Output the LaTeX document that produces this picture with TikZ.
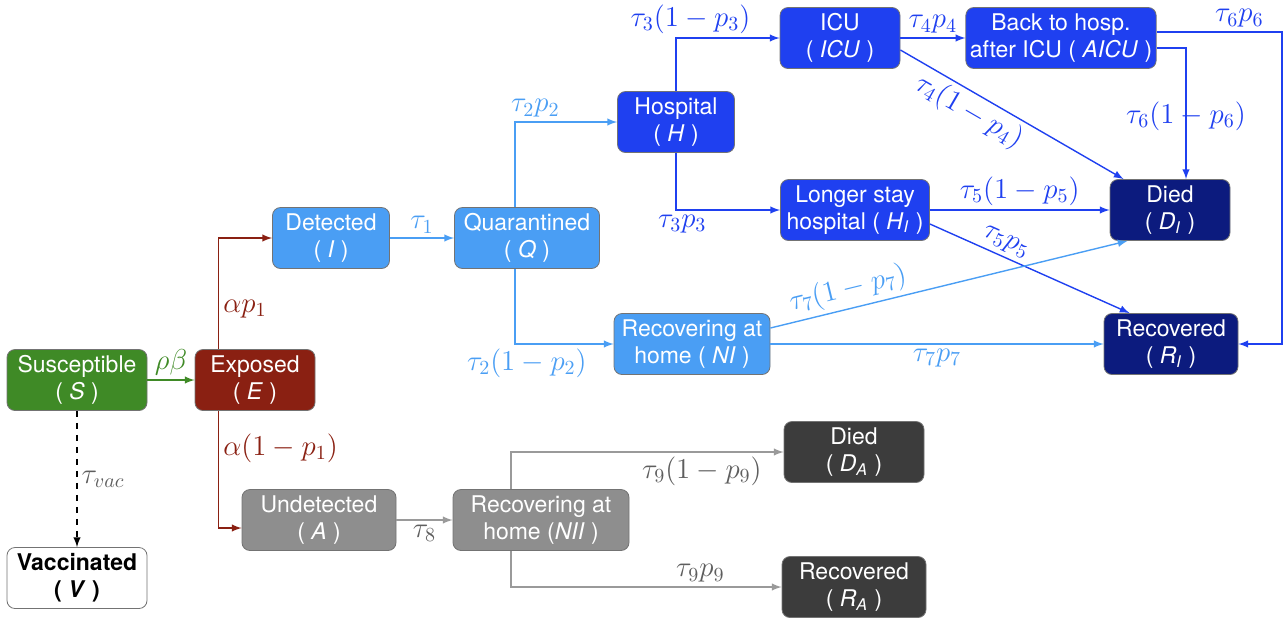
\documentclass[tikz,border=0pt]{standalone}
\usepackage{amsmath}
\usepackage{fontspec}
\usetikzlibrary{arrows}
\newfontfamily\boxfont{TeX Gyre Heros}
\newcommand{\stsub}[2]{\textit{#1}\textsubscript{\textit{#2}}}
\definecolor{sgreen}{HTML}{3F8A26}
\definecolor{ered}{HTML}{8A2012}
\definecolor{lblue}{HTML}{4A9EF4}
\definecolor{hblue}{HTML}{1F40F0}
\definecolor{navy}{HTML}{0C1B7E}
\definecolor{lgray}{HTML}{8E8E8E}
\definecolor{dgray}{HTML}{3C3C3C}
\definecolor{agray}{HTML}{9A9A9A}
\definecolor{tgray}{HTML}{5E5E5E}

\begin{document}
\begin{tikzpicture}
	[x=0.5pt, y=-0.5pt, >=latex, line width=0.7pt,
	main/.style = {draw=black!55, thin, rounded corners=4pt, text=white, align=center,
		minimum height=30.5pt, inner sep=2pt, font=\boxfont\fontsize{11.5}{13.5}\selectfont},
	lab/.style = {font=\fontsize{14}{16}\selectfont, inner sep=2pt}]
	\useasboundingbox (0,0) rectangle (1284,617);
	% compartments
	\node[main, fill=sgreen, minimum width=70pt] (S) at (77,380) {Susceptible\\( \textit{S} )};
	\node[main, fill=ered, minimum width=60pt] (E) [right of = S, node distance=89pt] {Exposed\\( \textit{E} )};
	\node[main, fill=lblue, minimum width=58.5pt] (I) at (331,238) {Detected\\( \textit{I} )};
	\node[main, fill=lblue, minimum width=72.5pt] (Q) [right of = I, node distance=98pt] {Quarantined\\( \textit{Q} )};
	\node[main, fill=hblue, minimum width=58.5pt] (H) at (676,122) {Hospital\\( \textit{H} )};
	\node[main, fill=hblue, minimum width=60pt] (ICU) at (840,38) {ICU\\( \textit{ICU} )};
	\node[main, fill=hblue, minimum width=93.5pt] (AICU) [right of = ICU, node distance=110.5pt] {Back to hosp.\\after ICU ( \textit{AICU} )};
	\node[main, fill=hblue, minimum width=74.5pt] (HI) at (855,210) {Longer stay\\hospital ( \stsub{H}{I} )};
	\node[main, fill=navy, minimum width=60pt] (DI) [right of = HI, node distance=157.5pt] {Died\\( \stsub{D}{I} )};
	\node[main, fill=lblue, minimum width=78pt] (NI) at (692,344) {Recovering at\\home ( \textit{NI} )};
	\node[main, fill=navy, minimum width=67pt] (RI) [right of = NI, node distance=239.5pt] {Recovered\\( \stsub{R}{I} )};
	\node[main, fill=white, text=black, minimum width=70pt, font=\boxfont\bfseries\fontsize{11.5}{13.5}\selectfont] (V) [below of = S, node distance=99pt] {Vaccinated\\( \textit{V} )};
	\node[main, fill=lgray, minimum width=77pt] (A) at (319,520) {Undetected\\( \textit{A} )};
	\node[main, fill=lgray, minimum width=88pt] (NII) [right of = A, node distance=111pt] {Recovering at\\home (\textit{NII} )};
	\node[main, fill=dgray, minimum width=70pt] (DA) at (854,452) {Died\\( \stsub{D}{A} )};
	\node[main, fill=dgray, minimum width=72pt] (RA) [below of = DA, node distance=67.5pt] {Recovered\\( \stsub{R}{A} )};
	\coordinate (rt) at (1282,344);
	% flows
	\draw[->, sgreen] (S) -- node[lab, above] {$\rho\beta$} (E);
	\draw[->, ered] ([xshift=12pt]E.north west) |- node[lab, right, pos=0.18] {$\alpha p_1$} (I);
	\draw[->, ered] ([xshift=12pt]E.south west) |- node[lab, right, pos=0.16] {$\alpha(1-p_1)$} ([yshift=-4pt]A.west);
	\draw[->, lblue] (I) -- node[lab, above] {$\tau_1$} (Q);
	\draw[->, lblue] ([xshift=-6pt]Q.north) |- node[lab, above, pos=0.6] {$\tau_2p_2$} (H);
	\draw[->, lblue] ([xshift=-6pt]Q.south) |- node[lab, below, pos=0.56] {$\tau_2(1-p_2)$} (NI);
	\draw[->, hblue] (H) |- node[lab, above, pos=0.57] {$\tau_3(1-p_3)$} (ICU);
	\draw[->, hblue] (H) |- node[lab, below, pos=0.53] {$\tau_3p_3$} (HI);
	\draw[->, hblue] (ICU) -- node[lab, above] {$\tau_4p_4$} (AICU);
	\draw[->, hblue] ([yshift=-6pt]ICU.east) -- node[lab, below, sloped, pos=0.35] {$\tau_4(1-p_4)$} ([xshift=7pt]DI.north west);
	\draw[->, hblue] ([yshift=3pt]AICU.east) -| node[lab, above, pos=0.33] {$\tau_6p_6$} (rt) -- (RI);
	\draw[->, hblue] ([yshift=-5pt]AICU.east) -| node[lab, pos=0.76] {$\tau_6(1-p_6)$} ([xshift=8pt]DI.north);
	\draw[->, hblue] (HI) -- node[lab, above] {$\tau_5(1-p_5)$} (DI);
	\draw[->, hblue] ([yshift=-7pt]HI.east) -- node[lab, above, sloped, pos=0.35] {$\tau_5p_5$} ([xshift=13pt]RI.north west);
	\draw[->, lblue] ([yshift=8pt]NI.east) -- node[lab, above, sloped, pos=0.23] {$\tau_7(1-p_7)$} ([xshift=9pt]DI.south west);
	\draw[->, lblue] (NI) -- node[lab, below] {$\tau_7p_7$} (RI);
	\draw[->, dashed, black] (S) -- node[lab, right, tgray] {$\tau_{vac}$} (V);
	\draw[->, agray] (A) -- node[lab, below, tgray] {$\tau_8$} (NII);
	\draw[->, agray] ([xshift=-15pt]NII.north) |- node[lab, below, pos=0.85, tgray] {$\tau_9(1-p_9)$} (DA);
	\draw[->, agray] ([xshift=-15pt]NII.south) |- node[lab, above, pos=0.85, tgray] {$\tau_9p_9$} (RA);
\end{tikzpicture}
\end{document}
